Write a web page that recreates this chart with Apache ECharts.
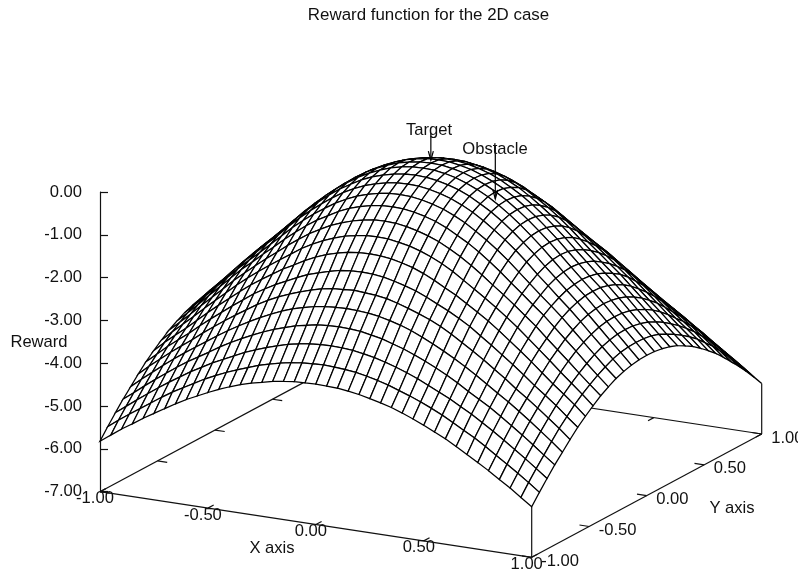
<!DOCTYPE html>
<html><head><meta charset="utf-8">
<script src="https://cdn.jsdelivr.net/npm/echarts@6/dist/echarts.min.js"></script>
<style>html,body{margin:0;background:#fff}#c{width:798px;height:573px}</style></head>
<body><div id="c"></div><script>
const X_TICKS=[-1,-0.5,0,0.5,1];
const Y_TICKS=[-1,-0.5,0,0.5,1];
const TITLE="Reward function for the 2D case";
const X_NAME="X axis",Y_NAME="Y axis",Z_NAME="Reward";
const TARGET_ARROW=[[0,0,0.7],[0,0,0.07]];
const OBSTACLE_ARROW=[[0.05,0.4667,-0.21],[0.05,0.4667,-1.47]];
// Depth below the peak; rows |y|=0..1 (15 steps), columns |x|=0..1 (20 steps); the surface mirrors in x and y
const DEPTH=[
[0.00,0.01,0.05,0.11,0.20,0.31,0.44,0.60,0.78,0.98,1.20,1.43,1.68,1.93,2.18,2.42,2.67,2.94,3.20,3.46,3.72],
[0.02,0.03,0.07,0.13,0.22,0.33,0.46,0.62,0.80,1.00,1.22,1.45,1.70,1.95,2.20,2.43,2.69,2.95,3.21,3.47,3.73],
[0.09,0.10,0.14,0.20,0.28,0.39,0.53,0.68,0.86,1.06,1.28,1.51,1.76,2.00,2.24,2.48,2.73,2.99,3.25,3.50,3.76],
[0.20,0.21,0.25,0.31,0.39,0.50,0.63,0.79,0.97,1.16,1.37,1.60,1.85,2.08,2.32,2.55,2.80,3.06,3.31,3.56,3.81],
[0.35,0.36,0.40,0.46,0.54,0.65,0.78,0.94,1.11,1.30,1.51,1.74,1.97,2.20,2.42,2.65,2.90,3.15,3.40,3.65,3.88],
[0.54,0.55,0.59,0.65,0.73,0.84,0.98,1.12,1.29,1.48,1.68,1.90,2.11,2.33,2.54,2.78,3.02,3.26,3.51,3.75,3.98],
[0.78,0.79,0.83,0.89,0.97,1.07,1.20,1.34,1.51,1.69,1.89,2.08,2.28,2.49,2.70,2.94,3.17,3.40,3.64,3.87,4.09],
[1.05,1.06,1.10,1.15,1.23,1.33,1.45,1.59,1.76,1.93,2.10,2.28,2.47,2.67,2.89,3.11,3.33,3.56,3.78,4.00,4.23],
[1.35,1.36,1.39,1.45,1.52,1.62,1.74,1.88,2.01,2.17,2.33,2.50,2.69,2.89,3.09,3.30,3.52,3.74,3.94,4.15,4.38],
[1.68,1.69,1.72,1.78,1.85,1.93,2.04,2.16,2.28,2.42,2.57,2.75,2.93,3.12,3.31,3.51,3.72,3.91,4.11,4.33,4.54],
[2.01,2.03,2.05,2.09,2.16,2.24,2.33,2.43,2.55,2.69,2.85,3.01,3.18,3.36,3.54,3.74,3.92,4.11,4.31,4.51,4.73],
[2.34,2.35,2.37,2.41,2.47,2.54,2.63,2.74,2.86,2.99,3.13,3.28,3.44,3.61,3.78,3.95,4.13,4.32,4.52,4.72,4.93],
[2.67,2.68,2.70,2.75,2.80,2.88,2.96,3.06,3.17,3.29,3.42,3.56,3.72,3.87,4.02,4.19,4.37,4.55,4.74,4.94,5.13],
[3.02,3.03,3.05,3.09,3.14,3.21,3.29,3.38,3.48,3.60,3.72,3.84,3.98,4.12,4.28,4.44,4.61,4.79,4.97,5.16,5.35],
[3.37,3.38,3.40,3.43,3.48,3.54,3.61,3.70,3.79,3.89,4.00,4.12,4.26,4.40,4.54,4.70,4.87,5.04,5.21,5.39,5.58],
[3.72,3.73,3.74,3.77,3.81,3.87,3.93,4.00,4.09,4.19,4.30,4.42,4.54,4.68,4.83,4.98,5.13,5.30,5.46,5.64,5.82]
];
// Extra depth of the dimple around the obstacle: [column from centre, row from centre, extra]
const OBSTACLE_DIP=[[1,7,0.58],[0,7,0.10],[2,7,0.20],[1,6,0.20],[1,8,0.10],[0,6,0.06],[2,6,0.10],[0,8,0.03],[2,8,0.05],[3,7,0.05],[1,5,0.05],[3,6,0.03],[-1,7,0.02]];
const FONT='"Liberation Sans",Arial,sans-serif',FS=16.6,INK='#111';
const GRID={left:100,top:192,width:662,height:299.7};
const VX=[431.7,65.6],VY=[230,-123.3],ZPX=GRID.height/7;
const HY=DEPTH.length-1,HX=DEPTH[0].length-1,NY=2*HY+1,NX=2*HX+1;
const gx=i=>(i-HX)/HX, gy=j=>(j-HY)/HY;
const REWARD=[];
for(let j=0;j<NY;j++){const r=[];for(let i=0;i<NX;i++)r.push(-DEPTH[Math.abs(j-HY)][Math.abs(i-HX)]);REWARD.push(r);}
OBSTACLE_DIP.forEach(d=>{REWARD[d[1]+HY][d[0]+HX]-=d[2];});
function view(x,y,z){
  const u=(x+1)/2,v=(y+1)/2;
  return [(u*VX[0]+v*VY[0])/GRID.width, z-(u*VX[1]+v*VY[1])/ZPX];
}
const seg=(a,b)=>[a,b];
const frame=[
 seg([-1,-1,-7],[1,-1,-7]),seg([1,-1,-7],[1,1,-7]),seg([-1,-1,-7],[-1,1,-7]),seg([-1,1,-7],[1,1,-7]),
 seg([1,-1,-7],[1,-1,REWARD[0][NX-1]]),seg([1,1,-7],[1,1,REWARD[NY-1][NX-1]])
];
X_TICKS.forEach(t=>{frame.push(seg([t,-1,-7],[t,-0.95,-7]));frame.push(seg([t,1,-7],[t,0.95,-7]));});
Y_TICKS.forEach(t=>{frame.push(seg([-1,t,-7],[-0.955,t,-7]));frame.push(seg([1,t,-7],[0.955,t,-7]));});
const cells=[];
for(let j=NY-2;j>=0;j--)for(let i=0;i<NX-1;i++)cells.push([i,j]);
const tickLabels=[
 ...X_TICKS.map(t=>({p:[t,-1,-7],text:t.toFixed(2),dx:-5,dy:7,align:'center'})),
 ...Y_TICKS.map(t=>({p:[1,t,-7],text:t.toFixed(2),dx:9.5,dy:4,align:'left'}))
];
const arrows=[TARGET_ARROW,OBSTACLE_ARROW];
const chart=echarts.init(document.getElementById('c'),null,{renderer:'canvas'});
chart.setOption({
 animation:false,backgroundColor:'#fff',
 title:{text:TITLE,left:423.5,top:2,textAlign:'center',textStyle:{fontFamily:FONT,fontSize:16.9,fontWeight:'normal',color:INK}},
 grid:GRID,
 xAxis:{type:'value',min:0,max:1,show:false},
 yAxis:{type:'value',min:-7,max:0,interval:1,
  axisLine:{show:true,onZero:false,lineStyle:{color:INK,width:1.2}},
  axisTick:{show:true,inside:true,length:8,lineStyle:{color:INK,width:1.2}},
  splitLine:{show:false},
  axisLabel:{formatter:v=>v.toFixed(2),fontFamily:FONT,fontSize:FS,color:INK,margin:18}},
 graphic:[
  {type:'text',x:39,y:342,style:{text:Z_NAME,fontFamily:FONT,fontSize:FS,fill:INK,align:'center',verticalAlign:'middle'}},
  {type:'text',x:272,y:548,style:{text:X_NAME,fontFamily:FONT,fontSize:FS,fill:INK,align:'center',verticalAlign:'middle'}},
  {type:'text',x:732,y:508,style:{text:Y_NAME,fontFamily:FONT,fontSize:FS,fill:INK,align:'center',verticalAlign:'middle'}},
  {type:'text',x:429,y:130,z:20,style:{text:'Target',fontFamily:FONT,fontSize:FS,fill:INK,align:'center',verticalAlign:'middle'}},
  {type:'text',x:495,y:149,z:20,style:{text:'Obstacle',fontFamily:FONT,fontSize:FS,fill:INK,align:'center',verticalAlign:'middle'}}
 ],
 series:[
  {type:'custom',coordinateSystem:'cartesian2d',clip:false,silent:true,z:1,data:frame.map((s,k)=>[k]),
   renderItem:(p,api)=>{const s=frame[api.value(0)];
    const a=api.coord(view(...s[0])),b=api.coord(view(...s[1]));
    return {type:'line',shape:{x1:a[0],y1:a[1],x2:b[0],y2:b[1]},style:{stroke:INK,lineWidth:1.2,fill:null}};}},
  {type:'custom',coordinateSystem:'cartesian2d',clip:false,silent:true,z:2,data:cells,
   renderItem:(p,api)=>{const i=api.value(0),j=api.value(1);
    const pts=[[i,j],[i+1,j],[i+1,j+1],[i,j+1]].map(q=>api.coord(view(gx(q[0]),gy(q[1]),REWARD[q[1]][q[0]])));
    return {type:'polygon',shape:{points:pts},style:{fill:'#fff',stroke:'#000',lineWidth:1.25}};}},
  {type:'custom',coordinateSystem:'cartesian2d',clip:false,silent:true,z:3,data:tickLabels.map((s,k)=>[k]),
   renderItem:(p,api)=>{const l=tickLabels[api.value(0)];const a=api.coord(view(...l.p));
    return {type:'text',x:a[0]+l.dx,y:a[1]+l.dy,style:{text:l.text,fontFamily:FONT,fontSize:FS,fill:INK,align:l.align,verticalAlign:'middle'}};}},
  {type:'custom',coordinateSystem:'cartesian2d',clip:false,silent:true,z:4,data:arrows.map((s,k)=>[k]),
   renderItem:(p,api)=>{const s=arrows[api.value(0)];
    const a=api.coord(view(...s[0])),b=api.coord(view(...s[1]));
    const st={stroke:'#000',lineWidth:1.2,fill:null};
    return {type:'group',children:[
     {type:'line',shape:{x1:a[0],y1:a[1],x2:b[0],y2:b[1]},style:st},
     {type:'polyline',shape:{points:[[b[0]-2.5,b[1]-9],[b[0],b[1]],[b[0]+2.5,b[1]-9]]},style:st}]};}}
 ]
});
</script></body></html>
